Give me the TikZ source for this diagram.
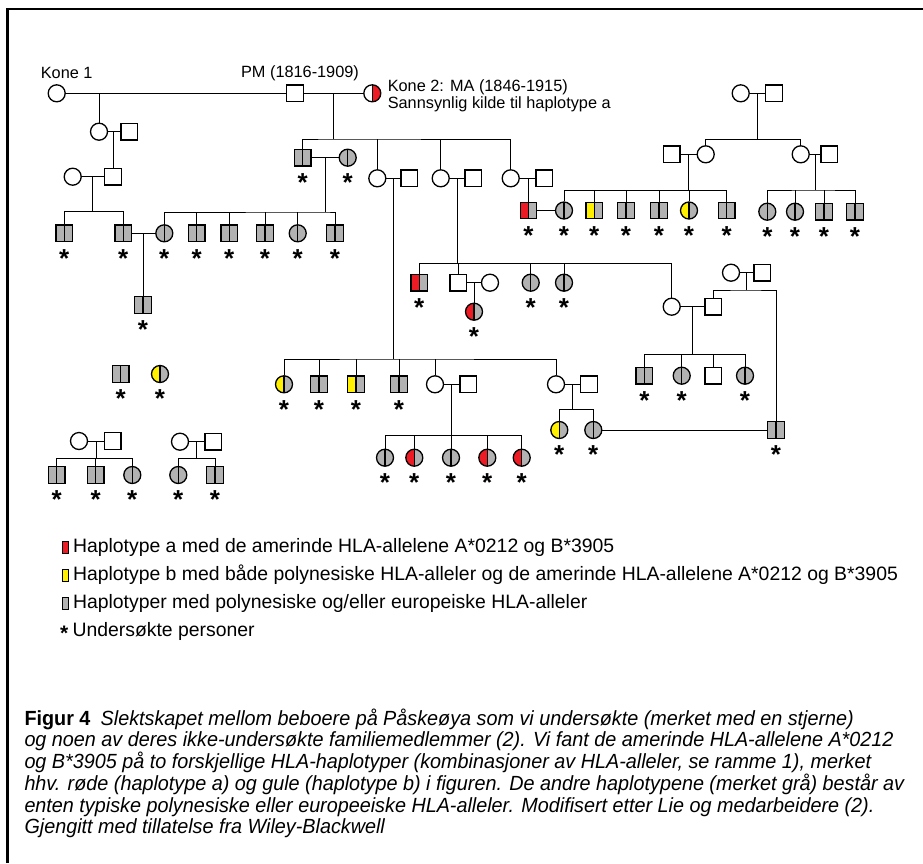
\documentclass[tikz,border=0pt]{standalone}
\usepackage{fontspec}
\setmainfont{Liberation Sans}
\newfontfamily\capfont[FakeStretch=0.965]{Liberation Sans}
\usetikzlibrary{positioning,calc}
\definecolor{hgray}{RGB}{178,178,178}
\definecolor{hred}{RGB}{237,28,36}
\definecolor{hyellow}{RGB}{255,240,0}

\begin{document}
\begin{tikzpicture}[x=1pt,y=-1pt,line width=1pt,
 male/.style={draw,line width=1.3pt,rectangle,minimum size=16.5pt,inner sep=0pt,fill=white},
 female/.style={draw,line width=1.3pt,circle,minimum size=17pt,inner sep=0pt,fill=white},
 halves/.style 2 args={path picture={
   \fill[#1] (path picture bounding box.south west) rectangle (path picture bounding box.north);
   \fill[#2] (path picture bounding box.south) rectangle (path picture bounding box.north east);
   \draw[line width=1.2pt] (path picture bounding box.south) -- (path picture bounding box.north);}},
 gg/.style={halves={hgray}{hgray}},
 rg/.style={halves={hred}{hgray}},
 yg/.style={halves={hyellow}{hgray}},
 wr/.style={halves={white}{hred}},
 ast/.style={font=\fontsize{26}{26}\selectfont\bfseries,inner sep=0pt,yshift=-25pt},
 lbl/.style={font=\fontsize{16.3}{17.3}\selectfont,inner sep=0pt},
 key/.style={draw,line width=1pt,minimum width=6pt,minimum height=12pt,inner sep=0pt},
 keytext/.style={font=\fontsize{19.4}{21}\selectfont,inner sep=0pt,anchor=west},
 capt/.style={font=\capfont\fontsize{20.5}{21.7}\selectfont,inner sep=0pt,anchor=base west}]
\useasboundingbox (0,0) rectangle (923,863);
\draw[line width=2.3pt] (7.5,863) -- (7.5,9) -- (923,9);

% first generation
\node[female] (kone1) at (56.7,93.3) {};
\node[male] (pm) at (295,93.3) {};
\node[female,wr] (kone2) at (372.3,93.3) {};
\node[lbl] (kone1t) at (66.7,72.5) {Kone 1};
\node[lbl] (pmt) at (300,73.5) {PM (1816-1909)};
\node[lbl,anchor=west,align=left] (kone2t) at (387.3,95.5) {Kone 2: MA (1846-1915)\\Sannsynlig kilde til haplotype a};
\coordinate (m0) at (99,93.3);

% left branch
\node[female] (a1) at (99,131.7) {};
\node[male] (a2) at (129.3,131.7) {};
\node[female] (b1) at (72.7,176.7) {};
\node[male] (b2) at (113,176.7) {};
\node[male,gg] (c1) at (64.3,233.3) {};
\node[male,gg] (c2) at (123.3,233.3) {};
\node[female,gg] (c3) at (164.3,233.3) {};
\node[male,gg] (c4) at (196.7,233.3) {};
\node[male,gg] (c5) at (229.3,233.3) {};
\node[male,gg] (c6) at (265,233.3) {};
\node[female,gg] (c7) at (297.7,233.3) {};
\node[male,gg] (c8) at (335,233.3) {};
\node[male,gg] (d1) at (143,305) {};

% children of PM and Kone 2
\node[male,gg] (p1) at (302.7,157.7) {};
\node[female,gg] (p1w) at (347.7,157.7) {};
\node[female] (p2) at (377.3,178.3) {};
\node[male] (p2h) at (409.3,178.3) {};
\node[female] (p3) at (440.7,178.3) {};
\node[male] (p3h) at (473.3,178.3) {};
\node[female] (p4) at (510.7,178.3) {};
\node[male] (p4h) at (544.3,178.3) {};

% right branch
\node[female] (r1) at (740.7,93.3) {};
\node[male] (r2) at (774,93.3) {};
\node[male] (r3h) at (671.7,154.3) {};
\node[female] (r3) at (705.7,154.3) {};
\node[female] (r4) at (800.7,154.3) {};
\node[male] (r4h) at (829.3,154.3) {};
\node[male,rg] (q1) at (528.5,210.5) {};
\node[female,gg] (q2) at (564,210.5) {};
\node[male,yg] (q3) at (594.3,210.5) {};
\node[male,gg] (q4) at (626,210.5) {};
\node[male,gg] (q5) at (659,210.5) {};
\node[female,yg] (q6) at (689,210.5) {};
\node[male,gg] (q7) at (726.7,210.5) {};
\node[female,gg] (q8) at (767.3,211.7) {};
\node[female,gg] (q9) at (795,211.7) {};
\node[male,gg] (q10) at (824,211.7) {};
\node[male,gg] (q11) at (855,211.7) {};

\node[male,rg] (e1) at (419.3,282.7) {};
\node[male] (e2) at (458.3,282.7) {};
\node[female] (e2w) at (490,282.7) {};
\node[female,gg] (e3) at (530.7,282.7) {};
\node[female,gg] (e4) at (564,282.7) {};
\node[female,rg] (e5) at (474,311.7) {};
\node[female] (e6) at (671.7,306.7) {};
\node[male] (e6h) at (713.3,306.7) {};
\node[female] (t1) at (731,272.7) {};
\node[male] (t2) at (762.3,272.7) {};
\node[male,gg] (t3) at (776,430) {};
\node[male,gg] (h1) at (644.3,375.7) {};
\node[female,gg] (h2) at (681.7,375.7) {};
\node[male] (h3) at (713.3,375.7) {};
\node[female,gg] (h4) at (745,375.7) {};

\node[female,yg] (g1) at (284,384.3) {};
\node[male,gg] (g2) at (319,384.3) {};
\node[male,yg] (g3) at (356,384.3) {};
\node[male,gg] (g4) at (399,384.3) {};
\node[female] (g5) at (435,384.3) {};
\node[male] (g5h) at (468.3,384.3) {};
\node[female] (g6) at (556,384.3) {};
\node[male] (g6h) at (589,384.3) {};
\node[female,gg] (k1) at (385,457.7) {};
\node[female,rg] (k2) at (414.3,457.7) {};
\node[female,gg] (k3) at (451,457.7) {};
\node[female,rg] (k4) at (487.3,457.7) {};
\node[female,rg] (k5) at (521.7,457.7) {};
\node[female,yg] (j1) at (559.3,430) {};
\node[female,gg] (j2) at (593.3,430) {};

% separate families
\node[male,gg] (i1) at (120.7,374) {};
\node[female,yg] (i2) at (160,374) {};
\node[female] (u1) at (79,441) {};
\node[male] (u2) at (112.7,441) {};
\node[male,gg] (u3) at (56.7,475) {};
\node[male,gg] (u4) at (95.7,475) {};
\node[female,gg] (u5) at (132.3,475) {};
\node[female] (v1) at (180,441.7) {};
\node[male] (v2) at (213.3,441.7) {};
\node[female,gg] (v3) at (178.3,475) {};
\node[male,gg] (v4) at (215,475) {};

% couples
\foreach \a/\b in {kone1/pm,pm/kone2,a1/a2,b1/b2,c2/c3,p1/p1w,p2/p2h,p3/p3h,p4/p4h,
  r1/r2,r3h/r3,r4/r4h,q1/q2,e2/e2w,e6/e6h,t1/t2,g5/g5h,g6/g6h,j2/t3,u1/u2,v1/v2}
  \draw (\a) -- (\b);

% single children
\draw (m0) -- (a1);
\draw (b2) -- (b2 |- a1);
\draw (d1) -- (d1 |- c2);
\draw (q1) -- (q1 |- p4);
\draw (e5) -- (e5 |- e2);

% sibships
\coordinate (sb1) at (92.6,211.7);
\coordinate (sb2) at (333.6,139);
\coordinate (sb3) at (325.3,212);
\coordinate (sb4) at (757.5,139.3);
\coordinate (sb5) at (688.6,190.7);
\coordinate (sb6) at (815.2,190);
\coordinate (sb7) at (457,263.3);
\coordinate (sb8) at (746.7,290);
\coordinate (sb9) at (692.6,354.3);
\coordinate (sb10) at (393.4,359);
\coordinate (sb11) at (451.7,435);
\coordinate (sb12) at (572.6,409.3);
\coordinate (sb13) at (96,458.7);
\coordinate (sb14) at (196.7,458.7);
\foreach \s/\f/\l/\p in {sb1/c1/c2/b1,sb2/p1/p4/pm,sb3/c3/c8/p1,sb4/r3/r4/r1,sb5/q2/q7/r3,
  sb6/q8/q11/r4,sb7/e1/e6/p3,sb8/e6h/t3/t1,sb9/h1/h4/e6,sb10/g1/g6/p2,sb11/k1/k5/g5,
  sb12/j1/j2/g6,sb13/u3/u5/u1,sb14/v3/v4/v1}{
  \draw (\f) |- (\s) -| (\l);
  \draw (\s) -- (\s |- \p);
}
\foreach \s/\c in {sb2/p2,sb2/p3,sb3/c4,sb3/c5,sb3/c6,sb3/c7,sb5/q3,sb5/q4,sb5/q5,sb5/q6,
  sb6/q9,sb6/q10,sb7/e2,sb7/e3,sb7/e4,sb9/h2,sb9/h3,sb10/g2,sb10/g3,sb10/g4,sb10/g5,
  sb11/k2,sb11/k3,sb11/k4,sb13/u4}
  \draw (\c) -- (\c |- \s);

% examined persons
\foreach \p in {c1,c2,c3,c4,c5,c6,c7,c8,d1,p1,p1w,q1,q2,q3,q4,q5,q6,q7,q8,q9,q10,q11,
  e1,e3,e4,e5,h1,h2,h4,t3,g1,g2,g3,g4,k1,k2,k3,k4,k5,j1,j2,i1,i2,u3,u4,u5,v3,v4}
  \node[ast] (s-\p) at (\p) {*};

% key
\node[key,fill=hred] (key1) at (65,547) {};
\node[key,fill=hyellow] (key2) at (65,575) {};
\node[key,fill=hgray] (key3) at (65,603) {};
\node[keytext,font=\fontsize{21}{21}\selectfont\bfseries] (key4) at (59.5,633.5) {*};
\node[keytext,right=4pt of key1] (key1t) {Haplotype a med de amerinde HLA-allelene A*0212 og B*3905};
\node[keytext,right=4pt of key2] (key2t) {Haplotype b med både polynesiske HLA-alleler og de amerinde HLA-allelene A*0212 og B*3905};
\node[keytext,right=4pt of key3] (key3t) {Haplotyper med polynesiske og/eller europeiske HLA-alleler};
\node[keytext] (key4t) at (72,631) {Undersøkte personer};

% caption
\foreach \t [count=\i] in {{\textbf{Figur 4}\enspace\itshape Slektskapet mellom beboere på Påskeøya som vi undersøkte (merket med en stjerne)},
  {\itshape og noen av deres ikke-undersøkte familiemedlemmer (2). Vi fant de amerinde HLA-allelene A*0212},
  {\itshape og B*3905 på to forskjellige HLA-haplotyper (kombinasjoner av HLA-alleler, se ramme 1), merket},
  {\itshape hhv. røde (haplotype a) og gule (haplotype b) i figuren. De andre haplotypene (merket grå) består av},
  {\itshape enten typiske polynesiske eller europeeiske HLA-alleler. Modifisert etter Lie og medarbeidere (2).},
  {\itshape Gjengitt med tillatelse fra Wiley-Blackwell}}
  \node[capt] (cap\i) at (24,{703.5+21.7*\i}) {\t};
\end{tikzpicture}
\end{document}
